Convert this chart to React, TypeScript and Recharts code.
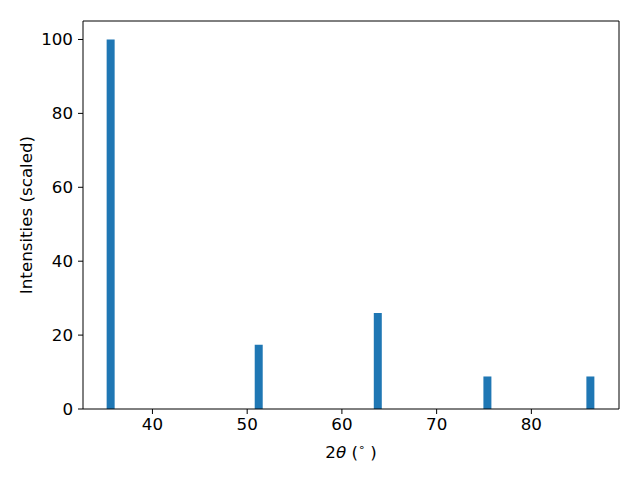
import { ComposedChart, Bar, XAxis, YAxis, ReferenceLine } from "recharts";

// peak positions (2theta, degrees) and scaled intensities
const twoTheta = [35.64, 51.27, 63.84, 75.41, 86.28];
const intensities = [100, 17.4, 26, 8.8, 8.8];
const xTicks = [40, 50, 60, 70, 80];
const yTicks = [0, 20, 40, 60, 80, 100];

const data = twoTheta.map((t, i) => ({ t, v: intensities[i] }));

const font = "'DejaVu Sans', sans-serif";
const fs = 16.7;
const tickStyle = { fontSize: fs, fill: "#000", fontFamily: font };

const XLabel = ({ viewBox }: any) => {
  const cx = viewBox.x + viewBox.width / 2;
  return (
    <text x={cx} y={458} textAnchor="middle" fontSize={fs} fontFamily={font} fill="#000">
      2<tspan fontStyle="italic">θ</tspan> (
      <tspan fontSize={11} dy={-7}>∘</tspan>
      <tspan dy={7}> )</tspan>
    </text>
  );
};

const YLabel = ({ viewBox }: any) => {
  const cy = viewBox.y + viewBox.height / 2;
  return (
    <text
      x={26}
      y={cy}
      transform={`rotate(-90, 26, ${cy})`}
      textAnchor="middle"
      dominantBaseline="central"
      fontSize={fs}
      fontFamily={font}
      fill="#000"
    >
      Intensities (scaled)
    </text>
  );
};

const App = () => {
  const xDomain = [32.67, 89.25];
  return (
    <div style={{ position: "absolute", left: 0, top: 0 }}>
      <ComposedChart
        width={640}
        height={480}
        data={data}
        margin={{ top: 21, right: 21, left: 20, bottom: 21 }}
      >
        <XAxis
          dataKey="t"
          type="number"
          domain={xDomain}
          allowDataOverflow
          ticks={xTicks}
          tick={tickStyle}
          tickSize={5}
          tickMargin={4}
          height={50}
          stroke="#000"
          label={<XLabel />}
        />
        <YAxis
          type="number"
          domain={[0, 105]}
          allowDataOverflow
          ticks={yTicks}
          tick={tickStyle}
          tickSize={5}
          tickMargin={5}
          width={63}
          stroke="#000"
          label={<YLabel />}
        />
        <ReferenceLine y={105} stroke="#000" strokeWidth={1} />
        <ReferenceLine x={89.25} stroke="#000" strokeWidth={1} />
        <Bar dataKey="v" fill="#1f77b4" barSize={8} isAnimationActive={false} />
      </ComposedChart>
    </div>
  );
};

export default App;
